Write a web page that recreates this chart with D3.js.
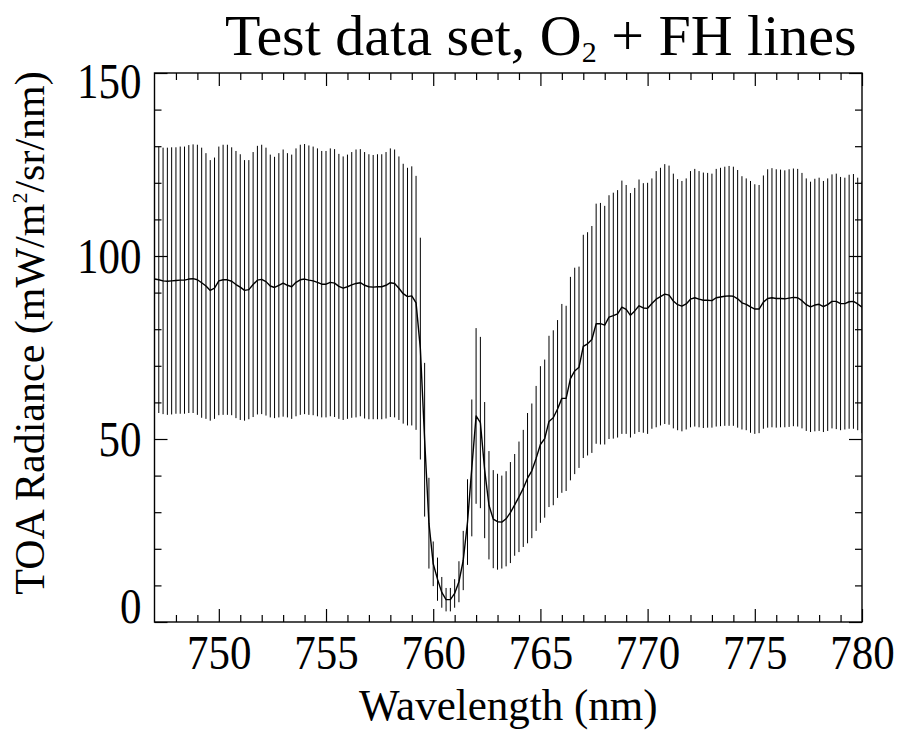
<!DOCTYPE html>
<html><head><meta charset="utf-8">
<script src="https://cdn.jsdelivr.net/npm/d3@7"></script>
<style>
body{margin:0;background:#fff}
svg{display:block}
text{font-family:"Liberation Serif","Times New Roman",serif;fill:#000}
</style>
</head><body>
<svg id="chart" width="901" height="734"></svg>
<script>
// Wavelength grid (nm)
const wavelength = [
 747.0,747.2,747.4,747.6,747.8,748.0,748.2,748.4,748.6,748.8,
 749.0,749.2,749.4,749.6,749.8,750.0,750.2,750.4,750.6,750.8,
 751.0,751.2,751.4,751.6,751.8,752.0,752.2,752.4,752.6,752.8,
 753.0,753.2,753.4,753.6,753.8,754.0,754.2,754.4,754.6,754.8,
 755.0,755.2,755.4,755.6,755.8,756.0,756.2,756.4,756.6,756.8,
 757.0,757.2,757.4,757.6,757.8,758.0,758.2,758.4,758.6,758.8,
 759.0,759.2,759.4,759.6,759.8,760.0,760.2,760.4,760.6,760.8,
 761.0,761.2,761.4,761.6,761.8,762.0,762.2,762.4,762.6,762.8,
 763.0,763.2,763.4,763.6,763.8,764.0,764.2,764.4,764.6,764.8,
 765.0,765.2,765.4,765.6,765.8,766.0,766.2,766.4,766.6,766.8,
 767.0,767.2,767.4,767.6,767.8,768.0,768.2,768.4,768.6,768.8,
 769.0,769.2,769.4,769.6,769.8,770.0,770.2,770.4,770.6,770.8,
 771.0,771.2,771.4,771.6,771.8,772.0,772.2,772.4,772.6,772.8,
 773.0,773.2,773.4,773.6,773.8,774.0,774.2,774.4,774.6,774.8,
 775.0,775.2,775.4,775.6,775.8,776.0,776.2,776.4,776.6,776.8,
 777.0,777.2,777.4,777.6,777.8,778.0,778.2,778.4,778.6,778.8,
 779.0,779.2,779.4,779.6,779.8,780.0
];
// TOA radiance (mW/m2/sr/nm)
const radiance = [
 93.7,93.5,93.2,93.1,93.2,93.3,93.4,93.4,93.7,93.8,
 93.5,92.7,91.8,90.6,91.2,93.2,93.5,93.5,93.1,92.2,
 91.5,90.6,90.8,92.2,93.4,93.6,93.0,91.8,91.4,92.0,
 92.6,92.0,91.6,92.8,93.5,93.7,93.4,93.2,92.8,92.3,
 92.3,92.8,92.6,91.7,91.2,91.6,92.1,92.5,92.7,92.0,
 91.6,91.5,91.6,91.6,92.0,92.7,92.5,91.2,89.7,88.9,
 89.1,87.2,74.7,49.8,27.0,15.9,11.7,8.1,6.1,6.1,
 7.8,11.0,16.8,27.3,42.1,56.3,54.5,41.5,31.9,28.1,
 27.4,27.3,28.2,29.9,32.0,34.2,36.5,39.3,41.3,44.7,
 48.5,50.1,54.8,55.8,58.2,61.1,61.1,66.5,68.6,69.6,
 75.3,76.0,77.2,81.5,81.5,81.1,83.3,83.7,84.2,86.0,
 85.4,83.8,85.0,86.4,85.8,85.7,87.0,88.2,88.9,89.6,
 89.3,87.7,86.7,86.3,86.9,88.2,88.6,88.2,87.9,87.9,
 87.8,88.6,88.8,89.0,89.1,89.0,88.3,87.2,86.8,86.1,
 85.5,85.5,87.4,88.4,88.6,88.4,88.4,88.3,88.5,88.7,
 88.6,87.8,86.7,86.1,86.6,86.8,86.2,86.7,87.6,87.6,
 87.0,87.0,87.5,87.6,86.9,86.0
];
// Error-bar half lengths (same units)
const radianceErr = [
 36.4,36.4,36.4,36.5,36.5,36.4,36.5,36.5,36.6,36.7,
 36.9,36.9,36.3,35.6,35.7,36.7,36.9,36.9,36.6,36.5,
 36.3,35.6,35.4,36.2,36.7,36.8,36.6,35.9,35.7,36.1,
 36.5,36.1,36.1,36.6,36.9,36.9,36.8,36.7,36.6,36.4,
 36.4,36.6,36.6,36.2,36.0,36.1,36.3,36.6,36.5,36.4,
 36.2,36.1,36.2,36.2,36.4,36.7,36.6,36.0,35.5,35.2,
 35.4,34.7,30.3,21.0,12.4,6.1,5.9,4.2,3.2,3.2,
 3.9,5.6,8.1,11.7,18.7,24.0,23.4,18.6,14.8,13.4,
 13.1,12.7,13.0,13.8,13.9,15.1,16.0,17.8,18.4,19.8,
 21.4,21.6,23.4,23.9,24.3,25.8,25.3,27.8,28.2,27.5,
 30.5,30.5,31.0,32.8,33.0,32.6,33.3,33.6,33.8,34.6,
 34.0,33.4,33.6,34.5,34.1,34.3,34.2,35.0,35.2,35.5,
 35.4,34.8,34.3,34.2,34.3,35.0,35.2,35.0,34.9,34.8,
 34.7,35.2,35.3,35.4,35.5,35.4,35.2,34.6,34.4,34.4,
 34.1,33.9,34.6,35.3,35.4,35.3,35.2,35.1,35.2,35.2,
 35.2,34.9,34.5,34.2,34.5,34.6,34.3,34.5,34.7,34.9,
 34.6,34.4,34.7,34.8,34.5,34.4
];
const xMajorTicks = [750,755,760,765,770,775,780];
const xMinorTicks = [748,749,751,752,753,754,756,757,758,759,761,762,763,764,766,767,768,769,771,772,773,774,776,777,778,779];
const yMajorTicks = [0,50,100,150];
const yMinorTicks = [10,20,30,40,60,70,80,90,110,120,130,140];

const L = 154.5, R = 862, T = 73, B = 622;
const stretch = 1.18;
const svg = d3.select("#chart");
const x = d3.scaleLinear().domain([747,780]).range([L,R]);
const y = d3.scaleLinear().domain([0,150]).range([B,T]);

const data = wavelength.map((w,i)=>({w, v:radiance[i], e:radianceErr[i]}));

svg.append("clipPath").attr("id","clip").append("rect")
  .attr("x",L).attr("y",T).attr("width",R-L).attr("height",B-T);

const plot = svg.append("g").attr("clip-path","url(#clip)");
plot.selectAll("line.err").data(data).enter().append("line")
  .attr("class","err")
  .attr("x1",d=>x(d.w)).attr("x2",d=>x(d.w))
  .attr("y1",d=>y(d.v-d.e)).attr("y2",d=>y(d.v+d.e))
  .attr("stroke","#000").attr("stroke-width",1);

plot.append("path").datum(data)
  .attr("fill","none").attr("stroke","#000").attr("stroke-width",1.4)
  .attr("stroke-linejoin","round")
  .attr("d",d3.line().x(d=>x(d.w)).y(d=>y(d.v)));

function styleAxis(g){
  g.attr("font-family",null);
  g.select(".domain").remove();
  g.selectAll(".tick line").attr("stroke","#000").attr("stroke-width",1.2);
}
const fs = 43;
// bottom axis
svg.append("g").attr("transform",`translate(0,${B})`)
  .call(d3.axisBottom(x).tickValues(xMajorTicks).tickSize(-13).tickPadding(20).tickFormat(d3.format("d")))
  .call(styleAxis)
  .call(g=>g.selectAll("text").attr("font-size",fs).attr("y",0).attr("dy",0)
     .attr("transform",`translate(0,47) scale(1,1.15)`));
svg.append("g").attr("transform",`translate(0,${B})`)
  .call(d3.axisBottom(x).tickValues(xMinorTicks).tickSize(-7).tickFormat(""))
  .call(styleAxis);
// top axis
svg.append("g").attr("transform",`translate(0,${T})`)
  .call(d3.axisTop(x).tickValues(xMajorTicks).tickSize(-13).tickFormat(""))
  .call(styleAxis);
svg.append("g").attr("transform",`translate(0,${T})`)
  .call(d3.axisTop(x).tickValues(xMinorTicks).tickSize(-7).tickFormat(""))
  .call(styleAxis);
// left axis
svg.append("g").attr("transform",`translate(${L},0)`)
  .call(d3.axisLeft(y).tickValues(yMajorTicks).tickSize(-13).tickPadding(13).tickFormat(d3.format("d")))
  .call(styleAxis)
  .call(g=>g.selectAll("text").attr("font-size",fs).attr("dy",0)
     .attr("transform",d=>`translate(0,${d===150 ? 24 : (d===0 ? 0 : 16)}) scale(1,${stretch})`));
svg.append("g").attr("transform",`translate(${L},0)`)
  .call(d3.axisLeft(y).tickValues(yMinorTicks).tickSize(-7).tickFormat(""))
  .call(styleAxis);
// right axis
svg.append("g").attr("transform",`translate(${R},0)`)
  .call(d3.axisRight(y).tickValues(yMajorTicks).tickSize(-13).tickFormat(""))
  .call(styleAxis);
svg.append("g").attr("transform",`translate(${R},0)`)
  .call(d3.axisRight(y).tickValues(yMinorTicks).tickSize(-7).tickFormat(""))
  .call(styleAxis);

// frame
svg.append("rect").attr("x",L).attr("y",T).attr("width",R-L).attr("height",B-T)
  .attr("fill","none").attr("stroke","#000").attr("stroke-width",1.4);

// titles
const title = svg.append("text").attr("x",225).attr("y",55).attr("font-size",58);
title.append("tspan").text("Test data set, O");
title.append("tspan").attr("font-size",30).attr("dy",7).text("2");
title.append("tspan").attr("dy",-7).text(" + FH lines");

svg.append("text").attr("transform",`translate(${(L+R)/2},720) scale(1,1.05)`)
  .attr("text-anchor","middle").attr("font-size",fs).text("Wavelength (nm)");

const yt = svg.append("text").attr("transform",`translate(44,333) rotate(-90)`)
  .attr("text-anchor","middle").attr("font-size",42);
yt.append("tspan").text("TOA Radiance (mW/m");
yt.append("tspan").attr("font-size",22).attr("dy",-17).text("2");
yt.append("tspan").attr("dy",17).text("/sr/nm)");
</script>
</body></html>
